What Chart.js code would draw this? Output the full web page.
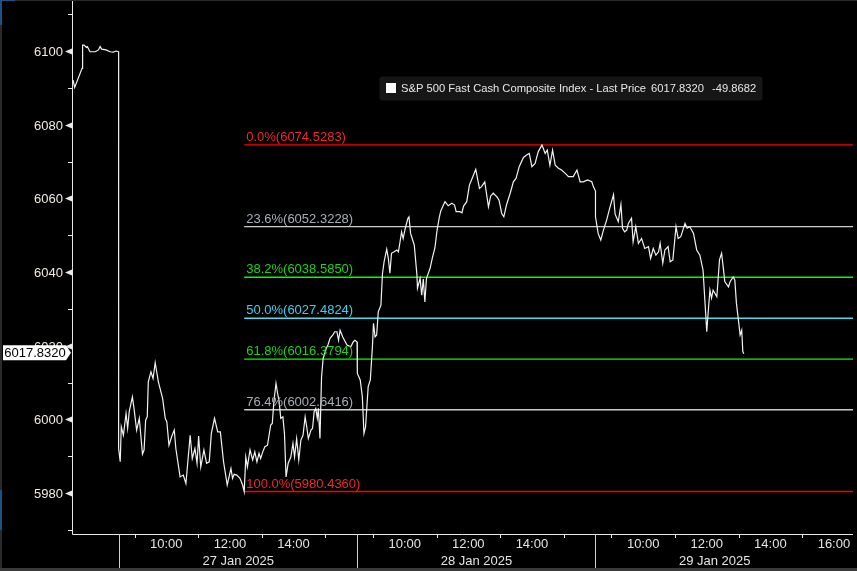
<!DOCTYPE html>
<html>
<head>
<meta charset="utf-8">
<script src="https://cdn.jsdelivr.net/npm/chart.js@4.4.1/dist/chart.umd.min.js"></script>
<style>
  html, body { margin: 0; padding: 0; background: #000; overflow: hidden; }
</style>
</head>
<body>
<canvas id="c" width="857" height="571"></canvas>
<script>
// --- data (times are exchange-session clock times) ---
const jan24Times = ["14:34","14:37","14:51","14:52","14:55","14:59","15:01","15:06","15:16","15:22","15:25","15:28","15:36","15:44","15:50","15:55","16:00"]
const jan24Prices = [6092.1,6090.1,6095.3,6101.6,6101.6,6101.0,6101.2,6099.8,6099.8,6100.3,6101.2,6100.5,6100.3,6099.8,6099.7,6100.0,6099.8]

const jan27Times = ["08:30","08:33","08:35","08:39","08:44","08:47","08:50","08:56","08:59","09:04","09:09","09:15","09:18","09:21","09:24","09:26","09:31","09:35","09:39","09:45","09:53","09:58","10:01","10:05","10:10","10:15","10:18","10:26","10:32","10:37","10:45","10:49","10:54","10:58","11:01","11:05","11:11","11:16","11:21","11:25","11:31","11:37","11:42","11:48","11:55","12:02","12:05","12:08","12:13","12:19","12:24","12:27","12:30","12:33","12:38","12:43","12:47","12:51","12:55","12:58","13:02","13:06","13:11","13:17","13:20","13:23","13:27","13:30","13:33","13:36","13:40","13:43","13:46","13:50","13:55","13:59","14:02","14:06","14:10","14:14","14:18","14:22","14:25","14:28","14:33","14:36","14:39","14:42","14:45","14:47","14:50","14:53","14:56","15:02","15:05","15:09","15:14","15:18","15:22","15:25","15:28","15:33","15:41","15:48","15:53","15:56","16:00"]
const jan27Prices = [5992.1,5988.5,5998.0,5995.7,6001.6,5997.6,6002.1,6006.1,6003.0,5997.1,6000.3,5990.6,5991.7,5999.8,6000.7,6010.2,6012.9,6011.1,6015.4,6010.2,6005.7,6000.3,5999.3,5993.0,5995.3,5997.1,5992.1,5984.4,5984.9,5982.6,5995.7,5989.4,5992.1,5988.1,5995.5,5987.1,5991.7,5988.1,5988.5,5996.2,6000.3,5996.6,5996.6,5988.5,5982.2,5986.7,5984.0,5985.1,5984.9,5984.0,5982.2,5980.4,5989.8,5987.1,5991.7,5989.0,5991.2,5988.5,5990.8,5989.4,5991.2,5992.6,5993.0,5998.5,5998.9,6004.8,6009.8,6007.1,6004.8,6000.3,6000.7,5996.2,5984.4,5988.1,5989.8,5993.5,5989.8,5994.8,5989.0,5994.4,5995.7,6000.7,5998.0,5994.8,5997.1,5997.6,6002.1,6003.0,6000.3,6003.0,5994.8,6011.6,6016.6,6019.3,6020.2,6022.0,6022.9,6023.8,6023.8,6021.5,6024.2,6022.4,6020.2,6019.7,6021.1,6021.5,6021.0]

const jan28Times = ["08:30","08:31","08:36","08:40","08:43","08:46","08:51","08:55","08:59","09:01","09:04","09:07","09:10","09:15","09:18","09:21","09:26","09:29","09:32","09:35","09:40","09:45","09:48","09:51","09:54","09:57","10:01","10:06","10:08","10:11","10:14","10:18","10:23","10:24","10:29","10:32","10:35","10:38","10:41","10:48","10:52","10:57","11:01","11:05","11:08","11:13","11:16","11:22","11:29","11:34","11:37","11:44","11:48","11:51","11:57","12:02","12:06","12:14","12:21","12:25","12:31","12:38","12:42","12:47","12:54","12:58","13:03","13:07","13:12","13:19","13:25","13:30","13:36","13:44","13:50","13:55","14:00","14:06","14:12","14:19","14:25","14:29","14:34","14:39","14:44","14:50","14:56","15:03","15:09","15:18","15:25","15:31","15:37","15:45","15:53","15:56","16:00"]
const jan28Prices = [6016.6,6012.5,6010.7,6006.1,5996.2,5998.0,6008.9,6010.7,6019.7,6026.1,6022.4,6022.9,6029.2,6031.0,6039.6,6042.8,6046.2,6043.7,6039.7,6045.1,6045.5,6046.0,6045.5,6048.1,6050.9,6049.1,6051.9,6054.6,6055.0,6050.5,6049.1,6047.3,6039.2,6035.6,6038.3,6033.7,6038.1,6031.9,6038.3,6041.1,6043.8,6046.6,6051.4,6054.7,6056.6,6058.2,6059.1,6058.0,6058.7,6058.2,6056.4,6056.4,6056.1,6057.9,6059.1,6063.6,6065.0,6067.9,6062.7,6063.2,6064.5,6057.7,6060.6,6061.4,6060.4,6059.5,6055.9,6055.0,6058.2,6061.4,6064.5,6065.4,6068.6,6071.1,6071.8,6072.2,6068.6,6069.5,6072.7,6074.5,6072.2,6073.1,6069.0,6073.1,6069.0,6068.2,6067.7,6066.8,6065.9,6065.9,6067.7,6064.5,6064.5,6065.0,6064.5,6063.2,6062.0]

const jan29Times = ["08:30","08:35","08:40","08:45","08:51","08:57","09:04","09:07","09:13","09:18","09:21","09:25","09:29","09:32","09:38","09:41","09:46","09:51","09:57","10:03","10:10","10:14","10:19","10:24","10:29","10:32","10:37","10:41","10:47","10:51","10:56","11:02","11:06","11:11","11:19","11:23","11:28","11:35","11:41","11:47","11:53","12:00","12:03","12:06","12:09","12:12","12:19","12:24","12:28","12:31","12:34","12:41","12:44","12:50","12:53","12:56","12:59","13:03","13:06","13:08","13:10"]
const jan29Prices = [6055.0,6050.5,6048.7,6051.4,6054.1,6057.4,6061.0,6055.7,6053.7,6058.3,6051.9,6050.9,6051.4,6053.2,6054.6,6048.2,6052.3,6047.8,6049.1,6046.4,6046.9,6043.7,6046.4,6044.6,6045.5,6047.8,6042.4,6046.0,6046.9,6042.8,6043.3,6052.3,6049.1,6049.6,6053.2,6051.9,6052.3,6050.5,6046.0,6044.6,6040.5,6023.8,6029.7,6035.1,6032.9,6035.1,6033.3,6043.3,6045.1,6041.4,6037.4,6036.0,6037.4,6038.7,6037.8,6031.5,6027.9,6022.9,6024.2,6018.4,6017.832]

const sessionTimes = [jan24Times, jan27Times, jan28Times, jan29Times]
const sessionPrices = [jan24Prices, jan27Prices, jan28Prices, jan29Prices]
const sessionIndex = [-1, 0, 1, 2]          // trading-day number, 27 Jan = 0

const dayLabels = ["27 Jan 2025", "28 Jan 2025", "29 Jan 2025"]
const hourLabels = ["10:00", "12:00", "14:00", "16:00"]
const hourTicks = ["09:00", "11:00", "13:00", "15:00"]
const yMajor = [5980, 6000, 6020, 6040, 6060, 6080, 6100]
const yMinor = [5970, 5990, 6010, 6030, 6050, 6070, 6090, 6110]

const fibLevels = ["0.0%", "23.6%", "38.2%", "50.0%", "61.8%", "76.4%", "100.0%"]
const fibPrices = [6074.5283, 6052.3228, 6038.5850, 6027.4824, 6016.3794, 6002.6416, 5980.4360]
const fibStartTime = "12:27"                 // on 27 Jan, the swing low

const seriesName = "S&P 500 Fast Cash Composite Index - Last Price"
const lastPrice = 6017.8320
const netChange = -49.8682

// --- session clock: 08:30 to 16:00, overnight gaps removed ---
const OPEN = 8.5, LEN = 7.5
const toX = (day, t) => {
  const [h, m] = t.split(":").map(Number)
  return day * LEN + h + m / 60 - OPEN
}

const priceData = []
sessionTimes.forEach((times, i) => {
  times.forEach((t, j) => priceData.push({ x: toX(sessionIndex[i], t), y: sessionPrices[i][j] }))
})

const xMin = toX(-1, "14:32")
const xMax = toX(2, "16:36")

const fibLine = ["#ff0000", "#cccccc", "#00ff00", "#4cdcf0", "#00ff00", "#cccccc", "#ff0000"]
const fibText = ["#f02828", "#a9adb8", "#1ed21e", "#3ed0ee", "#1ed21e", "#a9adb8", "#f02828"]

const FONT = '"Liberation Sans", Arial, sans-serif'
const AXIS = "#e8e8e8"

const decor = {
  id: "decor",
  afterDatasetsDraw(chart) {
    const { ctx, scales: { x, y } } = chart
    ctx.save()

    // fib labels
    ctx.font = "13px " + FONT
    ctx.textBaseline = "bottom"
    ctx.textAlign = "left"
    const fx = x.getPixelForValue(toX(0, fibStartTime))
    fibPrices.forEach((p, i) => {
      ctx.fillStyle = fibText[i]
      ctx.fillText(fibLevels[i] + "(" + p.toFixed(4) + ")", fx + 2, Math.round(y.getPixelForValue(p)) - 1)
    })

    // legend box
    ctx.fillStyle = "#161616"
    ctx.beginPath()
    ctx.roundRect(379.5, 76.5, 383, 24, 3)
    ctx.fill()
    ctx.fillStyle = "#ffffff"
    ctx.fillRect(386, 83, 10, 10)
    ctx.fillStyle = "#e6e6e6"
    ctx.font = "11.2px " + FONT
    ctx.textBaseline = "middle"
    ctx.fillText(seriesName, 401, 88.5)
    ctx.fillText(lastPrice.toFixed(4), 651, 88.5)
    ctx.fillText(netChange.toFixed(4), 712, 88.5)
    ctx.restore()
  },
  afterDraw(chart) {
    const { ctx, chartArea: a, scales: { x, y } } = chart
    ctx.save()
    ctx.strokeStyle = AXIS
    ctx.lineWidth = 1

    // axis lines
    ctx.beginPath()
    ctx.moveTo(a.left + 0.5, 0)
    ctx.lineTo(a.left + 0.5, a.bottom + 0.5)
    ctx.lineTo(a.right, a.bottom + 0.5)
    ctx.stroke()

    // y minor ticks
    ctx.beginPath()
    yMinor.forEach(v => {
      const py = Math.round(y.getPixelForValue(v)) + 0.5
      ctx.moveTo(a.left - 4, py)
      ctx.lineTo(a.left, py)
    })
    ctx.stroke()

    // y labels + pointer triangles
    ctx.font = "13px " + FONT
    ctx.textAlign = "right"
    ctx.textBaseline = "middle"
    yMajor.forEach(v => {
      const py = Math.round(y.getPixelForValue(v)) + 0.5
      ctx.fillStyle = "#efeae2"
      ctx.fillText(String(v), 63, py + 0.5)
      ctx.fillStyle = AXIS
      ctx.beginPath()
      ctx.moveTo(a.left - 7, py)
      ctx.lineTo(a.left, py - 3)
      ctx.lineTo(a.left, py + 3)
      ctx.closePath()
      ctx.fill()
    })

    // x axis: separators, ticks, labels
    ctx.fillStyle = "#e4e4e4"
    ctx.textAlign = "center"
    dayLabels.forEach((lab, d) => {
      const x0 = Math.round(x.getPixelForValue(toX(d, "08:30"))) + 0.5
      const x1 = x.getPixelForValue(toX(d, "16:00"))
      ctx.strokeStyle = "#d0d0d0"
      ctx.beginPath()
      ctx.moveTo(x0, a.bottom)
      ctx.lineTo(x0, 568)
      ctx.stroke()
      ctx.strokeStyle = AXIS
      ctx.beginPath()
      hourTicks.forEach(t => {
        const px = Math.round(x.getPixelForValue(toX(d, t))) + 0.5
        ctx.moveTo(px, a.bottom)
        ctx.lineTo(px, a.bottom + 4)
      })
      ctx.stroke()
      hourLabels.forEach(t => {
        if (t === "16:00" && d < dayLabels.length - 1) return
        ctx.fillText(t, x.getPixelForValue(toX(d, t)), 544.5)
      })
      ctx.fillText(lab, (x0 + x1) / 2, 561.5)
    })

    // last price tag
    const ly = y.getPixelForValue(lastPrice) - 1
    ctx.fillStyle = "#ffffff"
    ctx.beginPath()
    ctx.moveTo(3, ly - 7.5)
    ctx.lineTo(66, ly - 7.5)
    ctx.lineTo(71, ly)
    ctx.lineTo(66, ly + 7.5)
    ctx.lineTo(3, ly + 7.5)
    ctx.closePath()
    ctx.fill()
    ctx.fillStyle = "#000000"
    ctx.textAlign = "center"
    ctx.fillText(lastPrice.toFixed(4), 35, ly + 0.5)

    // window frame bits
    ctx.fillStyle = "#3a3a3a"
    ctx.fillRect(0, 568, 857, 3)
    ctx.fillStyle = "#2a2a2a"
    ctx.fillRect(0, 0, 2, 568)
    ctx.fillRect(15, 0, 842, 1)
    ctx.fillStyle = "#1f4f86"
    ctx.fillRect(0, 0, 15, 1)
    ctx.fillRect(0, 0, 2, 25)
    ctx.fillRect(0, 490, 2, 40)
    ctx.restore()
  }
}

const datasets = [{
  data: priceData,
  borderColor: "#f2f2f2",
  borderWidth: 1.2,
  pointRadius: 0,
  tension: 0
}]
fibPrices.forEach((p, i) => {
  datasets.push({
    data: [{ x: toX(0, fibStartTime), y: p }, { x: xMax, y: p }],
    borderColor: fibLine[i],
    borderWidth: 1.4,
    pointRadius: 0
  })
})

new Chart(document.getElementById("c"), {
  type: "line",
  data: { datasets },
  options: {
    responsive: false,
    animation: false,
    events: [],
    layout: { padding: { left: 72, right: 4, top: 0, bottom: 37 } },
    plugins: { legend: { display: false }, tooltip: { enabled: false } },
    scales: {
      x: { type: "linear", display: false, min: xMin, max: xMax },
      y: { type: "linear", display: false, min: 5968.9, max: 6113.85 }
    }
  },
  plugins: [decor]
})
</script>
</body>
</html>
